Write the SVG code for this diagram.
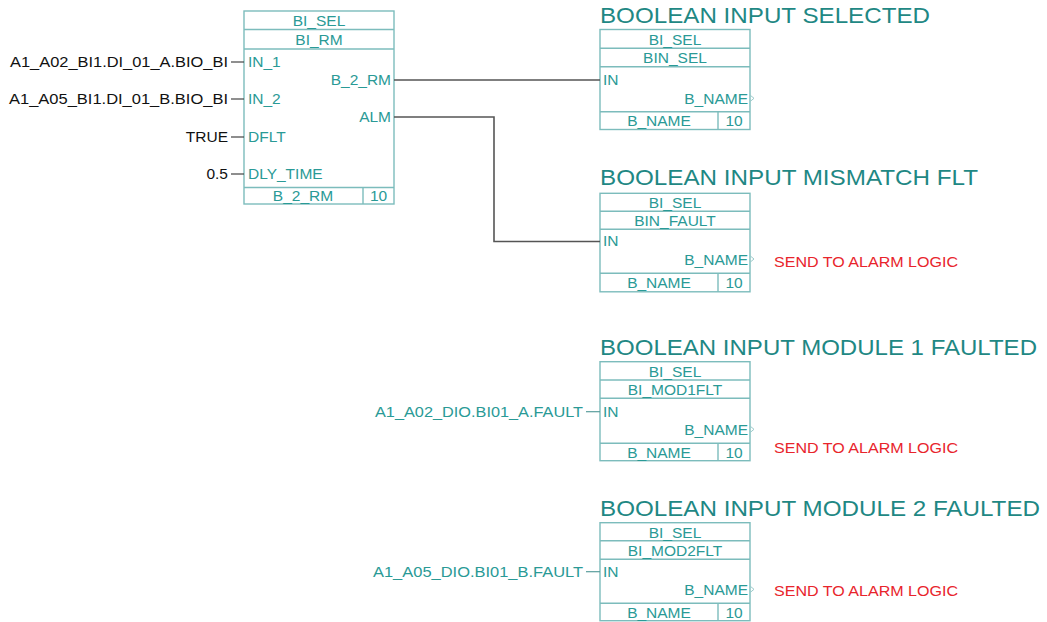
<svg xmlns="http://www.w3.org/2000/svg" width="1047" height="622" viewBox="0 0 1047 622">
<style>
  text { font-family: "Liberation Sans", Arial, sans-serif; }
  .box { fill: #ffffff; stroke: #7cbcbc; stroke-width: 1.4; }
  .div { stroke: #7cbcbc; stroke-width: 1.4; fill: none; }
  .bt { font-size: 15.5px; fill: #2a9a96; }
  .c { text-anchor: middle; }
  .r { text-anchor: end; }
  .title { font-size: 22px; fill: #1f8884; }
  .lbl { font-size: 15.5px; fill: #111111; text-anchor: end; }
  .tlbl { font-size: 15.5px; fill: #2a9a96; text-anchor: end; }
  .red { font-size: 15.5px; fill: #e8242c; }
  .stub { stroke: #444444; stroke-width: 1.2; }
  .tstub { stroke: #5a9e9c; stroke-width: 1.2; }
  .wire { stroke: #555555; stroke-width: 1.6; fill: none; }
  .tri { stroke: #9ccaca; stroke-width: 1; fill: none; }
</style>

<g id="bi_rm">
  <rect class="box" x="244" y="11" width="150" height="193"/>
  <line class="div" x1="244" y1="29.5" x2="394" y2="29.5"/>
  <line class="div" x1="244" y1="49" x2="394" y2="49"/>
  <line class="div" x1="244" y1="187.5" x2="394" y2="187.5"/>
  <line class="div" x1="363" y1="187.5" x2="363" y2="204"/>
  <text class="bt c" x="319" y="26">BI_SEL</text>
  <text class="bt c" x="319" y="45">BI_RM</text>
  <text class="bt" x="248" y="67">IN_1</text>
  <text class="bt" x="248" y="104">IN_2</text>
  <text class="bt" x="248" y="142">DFLT</text>
  <text class="bt" x="248" y="179">DLY_TIME</text>
  <text class="bt r" x="391" y="85">B_2_RM</text>
  <text class="bt r" x="391" y="122">ALM</text>
  <text class="bt c" x="303" y="201">B_2_RM</text>
  <text class="bt c" x="378.5" y="201">10</text>
  <line class="stub" x1="231" y1="62" x2="244" y2="62"/>
  <line class="stub" x1="231" y1="99" x2="244" y2="99"/>
  <line class="stub" x1="231" y1="137" x2="244" y2="137"/>
  <line class="stub" x1="231" y1="174" x2="244" y2="174"/>
  <text class="lbl" x="228" y="67" textLength="218" lengthAdjust="spacingAndGlyphs">A1_A02_BI1.DI_01_A.BIO_BI</text>
  <text class="lbl" x="228" y="104" textLength="219" lengthAdjust="spacingAndGlyphs">A1_A05_BI1.DI_01_B.BIO_BI</text>
  <text class="lbl" x="228" y="142">TRUE</text>
  <text class="lbl" x="228" y="179">0.5</text>
</g>

<g id="bin_sel">
  <text class="title" x="600" y="23" textLength="330" lengthAdjust="spacingAndGlyphs">BOOLEAN INPUT SELECTED</text>
  <rect class="box" x="600" y="29.5" width="150" height="100"/>
  <line class="div" x1="600" y1="48.3" x2="750" y2="48.3"/>
  <line class="div" x1="600" y1="66.7" x2="750" y2="66.7"/>
  <line class="div" x1="600" y1="111.7" x2="750" y2="111.7"/>
  <line class="div" x1="718" y1="111.7" x2="718" y2="129.5"/>
  <text class="bt c" x="675" y="44.5">BI_SEL</text>
  <text class="bt c" x="675" y="63">BIN_SEL</text>
  <text class="bt" x="603" y="85">IN</text>
  <text class="bt r" x="748" y="103.5">B_NAME</text>
  <text class="bt c" x="659" y="126">B_NAME</text>
  <text class="bt c" x="734" y="126">10</text>
  <polyline class="tri" points="750,95 754,98.3 750,101.6"/>
</g>

<g id="bin_fault">
  <text class="title" x="600" y="185" textLength="378" lengthAdjust="spacingAndGlyphs">BOOLEAN INPUT MISMATCH FLT</text>
  <rect class="box" x="600" y="193.3" width="150" height="98.5"/>
  <line class="div" x1="600" y1="211.3" x2="750" y2="211.3"/>
  <line class="div" x1="600" y1="229.3" x2="750" y2="229.3"/>
  <line class="div" x1="600" y1="273.3" x2="750" y2="273.3"/>
  <line class="div" x1="718" y1="273.3" x2="718" y2="291.8"/>
  <text class="bt c" x="675" y="208">BI_SEL</text>
  <text class="bt c" x="675" y="226">BIN_FAULT</text>
  <text class="bt" x="603" y="246">IN</text>
  <text class="bt r" x="748" y="264.5">B_NAME</text>
  <text class="bt c" x="659" y="288">B_NAME</text>
  <text class="bt c" x="734" y="288">10</text>
  <polyline class="tri" points="750,255.7 754,259 750,262.3"/>
  <text class="red" x="774" y="266.5" textLength="184" lengthAdjust="spacingAndGlyphs">SEND TO ALARM LOGIC</text>
</g>

<g id="bi_mod1flt">
  <text class="title" x="600" y="355" textLength="437" lengthAdjust="spacingAndGlyphs">BOOLEAN INPUT MODULE 1 FAULTED</text>
  <rect class="box" x="600" y="361.7" width="150" height="99"/>
  <line class="div" x1="600" y1="380" x2="750" y2="380"/>
  <line class="div" x1="600" y1="398.3" x2="750" y2="398.3"/>
  <line class="div" x1="600" y1="443.3" x2="750" y2="443.3"/>
  <line class="div" x1="718" y1="443.3" x2="718" y2="460.7"/>
  <text class="bt c" x="675" y="376.5">BI_SEL</text>
  <text class="bt c" x="675" y="395">BI_MOD1FLT</text>
  <text class="bt" x="603" y="417">IN</text>
  <text class="bt r" x="748" y="434.5">B_NAME</text>
  <text class="bt c" x="659" y="457.5">B_NAME</text>
  <text class="bt c" x="734" y="457.5">10</text>
  <polyline class="tri" points="750,426 754,429.3 750,432.6"/>
  <line class="tstub" x1="586" y1="411.7" x2="600" y2="411.7"/>
  <text class="tlbl" x="583" y="417" textLength="208" lengthAdjust="spacingAndGlyphs">A1_A02_DIO.BI01_A.FAULT</text>
  <text class="red" x="774" y="452.5" textLength="184" lengthAdjust="spacingAndGlyphs">SEND TO ALARM LOGIC</text>
</g>

<g id="bi_mod2flt">
  <text class="title" x="600" y="515.5" textLength="440" lengthAdjust="spacingAndGlyphs">BOOLEAN INPUT MODULE 2 FAULTED</text>
  <rect class="box" x="600" y="522.7" width="150" height="98"/>
  <line class="div" x1="600" y1="540.7" x2="750" y2="540.7"/>
  <line class="div" x1="600" y1="559.3" x2="750" y2="559.3"/>
  <line class="div" x1="600" y1="603.3" x2="750" y2="603.3"/>
  <line class="div" x1="718" y1="603.3" x2="718" y2="620.7"/>
  <text class="bt c" x="675" y="537.5">BI_SEL</text>
  <text class="bt c" x="675" y="556">BI_MOD2FLT</text>
  <text class="bt" x="603" y="577">IN</text>
  <text class="bt r" x="748" y="594.5">B_NAME</text>
  <text class="bt c" x="659" y="617.5">B_NAME</text>
  <text class="bt c" x="734" y="617.5">10</text>
  <polyline class="tri" points="750,586 754,589.3 750,592.6"/>
  <line class="tstub" x1="586" y1="571.7" x2="600" y2="571.7"/>
  <text class="tlbl" x="583" y="577" textLength="210" lengthAdjust="spacingAndGlyphs">A1_A05_DIO.BI01_B.FAULT</text>
  <text class="red" x="774" y="596" textLength="184" lengthAdjust="spacingAndGlyphs">SEND TO ALARM LOGIC</text>
</g>

<g id="connectors">
  <polyline class="wire" points="394,80 600,80"/>
  <polyline class="wire" points="394,117 494,117 494,241.5 600,241.5"/>
</g>
</svg>
